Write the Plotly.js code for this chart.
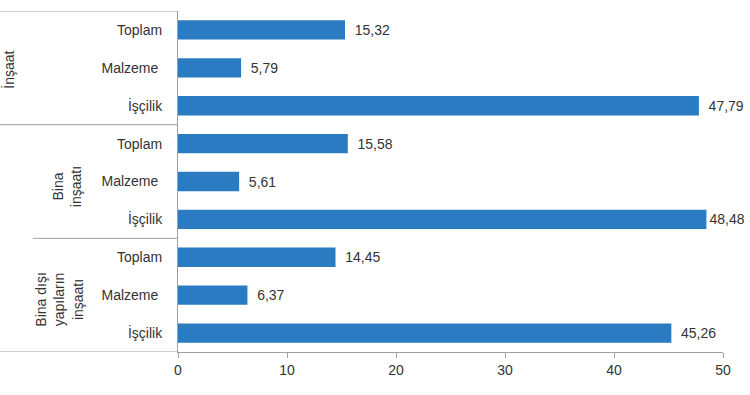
<!DOCTYPE html>
<html>
<head>
<meta charset="utf-8">
<script src="https://cdn.plot.ly/plotly-3.0.1.min.js"></script>
<style>body{margin:0;background:#fff}#chart{width:750px;height:395px}</style>
</head>
<body>
<div id="chart"></div>
<script>
const groups = ["İnşaat", "Bina<br>inşaatı", "Bina dışı<br>yapıların<br>inşaatı"];
const components = ["Toplam", "Malzeme", "İşçilik"];
const insaat = [15.32, 5.79, 47.79];
const binaInsaati = [15.58, 5.61, 48.48];
const binaDisi = [14.45, 6.37, 45.26];
const xTicks = [0, 10, 20, 30, 40, 50];

const seriesByGroup = [insaat, binaInsaati, binaDisi];
const yCats = [], xVals = [], tickText = [], labels = [];
seriesByGroup.forEach((vals, gi) => {
  vals.forEach((v, ci) => {
    yCats.push("g" + gi + "_" + components[ci]);
    tickText.push(components[ci] + (ci === 1 ? "\u00a0" : ""));
    xVals.push(v);
    // near the right edge the label sits closer to its bar, as in the reference
    const pad = v > 48 ? "" : "\u00a0\u2009";
    labels.push(pad + v.toFixed(2).replace(".", ","));
  });
});

const W = 750, L = 178, R = 27;
const plotW = W - L - R;
const leftEdge = -L / plotW;
const lineColor = "#a0a0a0";
const FONT = "Liberation Sans, Arial, sans-serif";
const FS = 14;

const shapes = [
  {type: "line", xref: "paper", yref: "y", x0: leftEdge, x1: 0, y0: -0.5, y1: -0.5, line: {color: lineColor, width: 1}},
  {type: "line", xref: "paper", yref: "y", x0: leftEdge, x1: 0, y0: 2.5, y1: 2.5, line: {color: lineColor, width: 1}},
  {type: "line", xref: "paper", yref: "y", x0: -(L - 33) / plotW, x1: 0, y0: 5.5, y1: 5.5, line: {color: lineColor, width: 1}},
  {type: "line", xref: "paper", yref: "y", x0: leftEdge, x1: 0, y0: 8.5, y1: 8.5, line: {color: lineColor, width: 1}}
];

const groupLabelX = [9, 67, 59];
const groupLabelDy = [0.05, 0.15, 0.12];
const annotations = groups.map((g, gi) => ({
  text: g, xref: "paper", yref: "y",
  x: -(L - groupLabelX[gi]) / plotW, y: gi * 3 + 1 + groupLabelDy[gi],
  xanchor: "center", yanchor: "middle", textangle: -90, showarrow: false,
  font: {family: FONT, size: FS, color: "#333"}
}));

const trace = {
  type: "bar", orientation: "h",
  x: xVals, y: yCats,
  text: labels, textposition: "outside", cliponaxis: false,
  textfont: {family: FONT, size: FS, color: "#333"},
  marker: {color: "#2a7bc2"},
  hoverinfo: "x+y"
};

const layout = {
  width: 750, height: 395,
  margin: {l: L, r: R, t: 11, b: 43},
  paper_bgcolor: "#fff", plot_bgcolor: "#fff",
  bargap: 0.49,
  showlegend: false,
  font: {family: FONT, size: FS, color: "#333"},
  xaxis: {
    range: [0, 50], tickvals: xTicks, ticktext: xTicks.map(String),
    showgrid: false, zeroline: false, showline: true, linecolor: lineColor, linewidth: 1,
    ticks: "outside", ticklen: 5, tickcolor: lineColor,
    tickfont: {size: FS, color: "#333"}
  },
  yaxis: {
    type: "category", categoryorder: "array", categoryarray: yCats,
    range: [8.5, -0.5],
    tickvals: yCats, ticktext: tickText,
    showgrid: false, zeroline: false, showline: true, linecolor: lineColor, linewidth: 1,
    ticks: "", ticklabelstandoff: 12,
    tickfont: {size: FS, color: "#333"}
  },
  shapes: shapes,
  annotations: annotations
};

Plotly.newPlot("chart", [trace], layout, {displayModeBar: false, staticPlot: true});
</script>
</body>
</html>
